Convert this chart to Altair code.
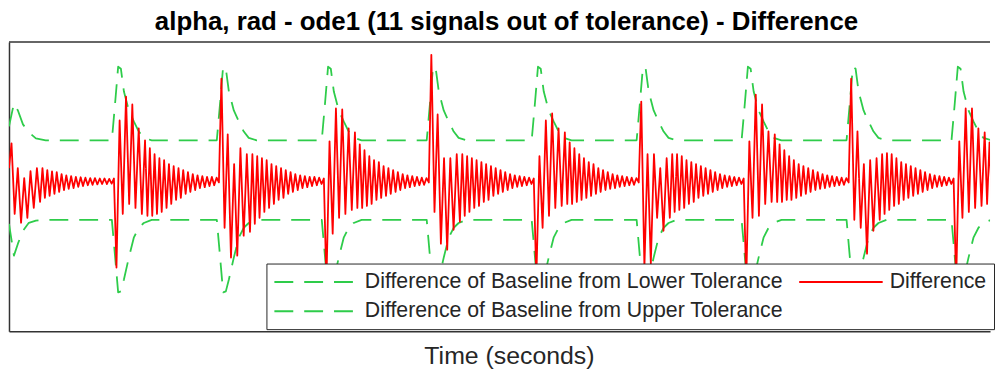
import altair as alt
import pandas as pd

TITLE = "alpha, rad - ode1 (11 signals out of tolerance) - Difference"
X_TITLE = "Time (seconds)"
LOWER = "Difference of Baseline from Lower Tolerance"
DIFF = "Difference"
UPPER = "Difference of Baseline from Upper Tolerance"
SERIES = [LOWER, UPPER, DIFF]
COLORS = ["#2ecc4a", "#2ecc4a", "#ff0000"]

# burst onsets (s)
BURST_ONSETS = [0, 1, 2, 3, 4, 5, 6, 7, 8, 9]
# times of the oscillation extrema after each onset (s)
EXT_T = [0.024, 0.054, 0.084, 0.115, 0.145, 0.175, 0.205, 0.236, 0.266, 0.296,
         0.319, 0.342, 0.365, 0.387, 0.410, 0.433, 0.455, 0.478, 0.501, 0.524,
         0.546, 0.569, 0.592, 0.615, 0.637, 0.660, 0.683, 0.705, 0.728, 0.751,
         0.774, 0.796, 0.819, 0.842, 0.865, 0.887, 0.910, 0.933, 0.955, 0.978]
# difference level at each onset instant (mrad)
ONSET_LEVEL = [3.0, 0.4, -0.6, 0.4, -0.6, 0.4, -0.6, 0.4, -0.6, 0.4]

# difference extrema for each burst (mrad)
BURST_1 = [9.25, -8.5, 3.0, -10.75, 0.5, -9.5, 2.25, -7.0, 3.0, -5.5,
           3.0, -4.5, 2.5, -4.0, 2.2, -3.5, 2.0, -3.0, 1.5, -2.5,
           1.2, -2.2, 1.0, -2.0, 0.8, -1.7, 0.7, -1.5, 0.6, -1.3,
           0.5, -1.2, 0.5, -1.1, 0.4, -1.0, 0.4, -1.0, 0.3, -0.9]
BURST_2 = [-22.0, 15.0, -8.5, 21.0, -6.0, 19.0, -7.0, 13.0, -8.5, 10.0,
           -9.0, 8.0, -9.0, 6.5, -8.5, 5.5, -8.0, 5.0, -7.0, 4.0,
           -6.0, 3.5, -5.0, 3.0, -4.5, 2.5, -3.5, 2.0, -3.0, 1.5,
           -2.5, 1.2, -2.0, 1.0, -1.8, 0.8, -1.5, 0.8, -1.3, 0.6]
BURST_3 = [25.5, -12.0, 11.5, -19.5, 4.0, -19.0, 8.0, -14.0, 6.5, -13.0,
           6.5, -11.0, 6.0, -9.5, 5.5, -8.0, 5.0, -7.0, 4.0, -6.0,
           3.5, -5.0, 3.0, -4.5, 2.5, -3.5, 2.0, -3.0, 1.5, -2.5,
           1.2, -2.0, 1.0, -1.8, 0.8, -1.5, 0.8, -1.3, 0.6, -1.0]
BURST_4 = [-26.0, 9.75, -13.5, 18.0, -9.5, 17.75, -8.5, 13.0, -7.5, 12.0,
           -7.0, 9.0, -7.0, 7.5, -6.5, 6.0, -6.0, 5.0, -5.0, 4.5,
           -4.5, 3.5, -4.0, 3.0, -3.5, 2.5, -3.0, 2.0, -2.5, 1.5,
           -2.0, 1.2, -1.8, 1.0, -1.5, 0.8, -1.3, 0.6, -1.2, 0.5]
BURST_5 = [31.5, -8.0, 16.5, -16.0, 5.5, -17.5, 5.5, -12.5, 6.5, -10.5,
           6.5, -9.0, 6.0, -8.0, 5.5, -7.0, 5.0, -6.5, 4.5, -5.5,
           4.0, -5.0, 3.5, -4.0, 3.0, -3.5, 2.5, -3.0, 2.0, -2.5,
           1.5, -2.0, 1.2, -1.7, 1.0, -1.5, 0.8, -1.3, 0.6, -1.0]
BURST_6 = [-25.0, 6.0, -12.0, 15.0, -9.0, 16.75, -7.0, 13.0, -6.5, 12.0,
           -6.0, 9.5, -6.0, 8.0, -5.5, 6.5, -5.0, 5.5, -4.5, 4.5,
           -4.0, 4.0, -3.5, 3.0, -3.0, 2.5, -2.5, 2.0, -2.2, 1.5,
           -2.0, 1.2, -1.7, 1.0, -1.5, 0.8, -1.3, 0.6, -1.2, 0.5]
BURST_7 = [19.75, -22.0, 6.5, -21.0, 6.5, -9.5, 3.0, -12.75, 5.5, -9.5,
           6.5, -8.0, 6.5, -7.5, 6.0, -7.0, 5.0, -6.0, 4.5, -5.5,
           4.0, -4.5, 3.5, -4.0, 3.0, -3.5, 2.5, -3.0, 2.0, -2.5,
           1.5, -2.0, 1.2, -1.7, 1.0, -1.5, 0.8, -1.3, 0.6, -1.0]
BURST_8 = [-26.0, 9.75, -9.5, 21.5, -9.0, 19.0, -6.0, 12.25, -5.5, 11.5,
           -5.5, 9.0, -5.5, 7.5, -5.0, 6.0, -5.0, 5.0, -4.5, 4.0,
           -4.0, 3.5, -3.5, 3.0, -3.0, 2.5, -2.5, 2.0, -2.2, 1.5,
           -2.0, 1.2, -1.7, 1.0, -1.5, 0.8, -1.3, 0.6, -1.2, 0.5]
BURST_9 = [25.5, -10.0, 12.25, -12.0, 4.0, -18.5, 5.0, -12.75, 5.5, -10.0,
           6.5, -8.5, 6.75, -7.5, 6.5, -6.5, 5.5, -6.0, 4.5, -5.0,
           4.0, -4.5, 3.5, -4.0, 3.0, -3.5, 2.5, -3.0, 2.0, -2.5,
           1.5, -2.0, 1.2, -1.7, 1.0, -1.5, 0.8, -1.3, 0.6, -1.0]
BURST_10 = [-26.0, 9.75, -9.5, 18.0, -8.0, 18.0, -7.0, 13.0, -6.5, 12.0,
            -6.0, 9.5, -6.0, 8.0, -5.5, 7.0, -5.0, 6.0, -5.0, 5.0]
DIFF_BURSTS = [BURST_1, BURST_2, BURST_3, BURST_4, BURST_5,
               BURST_6, BURST_7, BURST_8, BURST_9, BURST_10]

# tolerance-difference envelopes (mrad) around each onset
ENV_T = [-0.02, 0.01, 0.04, 0.066, 0.095, 0.142, 0.189, 0.237, 0.284, 0.36]
UPPER_ENV = [10.0, 19.0, 28.5, 28.0, 22.25, 17.5, 14.75, 12.2, 10.6, 10.0]
LOWER_ENV = [-10.0, -19.0, -28.25, -28.0, -25.0, -19.5, -14.5, -12.0, -10.8, -10.0]
FIRST_ENV_T = [0.0, 0.047, 0.085, 0.133, 0.189, 0.256, 0.35]
FIRST_UPPER_ENV = [13.5, 19.25, 17.5, 14.0, 12.0, 10.5, 10.0]
FIRST_LOWER_ENV = [-11.0, -19.0, -16.0, -12.75, -10.75, -10.2, -10.0]
END_T = 9.5

rows = []
for i, onset in enumerate(BURST_ONSETS):
    rows.append({"t": onset, "v": ONSET_LEVEL[i], "series": DIFF})
    for dt, v in zip(EXT_T, DIFF_BURSTS[i]):
        rows.append({"t": onset + dt, "v": v, "series": DIFF})
    if i == 0:
        for dt, u, l in zip(FIRST_ENV_T, FIRST_UPPER_ENV, FIRST_LOWER_ENV):
            rows.append({"t": onset + dt, "v": u, "series": UPPER})
            rows.append({"t": onset + dt, "v": l, "series": LOWER})
    else:
        for dt, u, l in zip(ENV_T, UPPER_ENV, LOWER_ENV):
            rows.append({"t": onset + dt, "v": u, "series": UPPER})
            rows.append({"t": onset + dt, "v": l, "series": LOWER})
rows.append({"t": END_T, "v": UPPER_ENV[-1], "series": UPPER})
rows.append({"t": END_T, "v": LOWER_ENV[-1], "series": LOWER})
df = pd.DataFrame(rows)

W, H = 987, 291
FONT = "Liberation Sans"

x = alt.X("t:Q", scale=alt.Scale(domain=[0, 9.347], nice=False, zero=False),
          axis=alt.Axis(title=X_TITLE, labels=False, ticks=False, grid=False,
                        domain=True, domainColor="#333333", domainWidth=1.5,
                        titleFont=FONT, titleFontSize=25, titleFontWeight="normal",
                        titleColor="#262626", titlePadding=13, titleX=503))
y = alt.Y("v:Q", scale=alt.Scale(domain=[-38, 34.75], nice=False, zero=False),
          axis=alt.Axis(title=None, labels=False, ticks=False, grid=False,
                        domain=True, domainColor="#333333", domainWidth=1.5))
legend = alt.Legend(title=None, orient="none", legendX=259, legendY=223, columns=2,
                    symbolType="M-1,0H7", symbolSize=441, symbolStrokeWidth=1.8,
                    labelFont=FONT, labelFontSize=21.4, labelColor="#262626",
                    labelOffset=69, labelLimit=0, columnPadding=12, rowPadding=7.5,
                    padding=7, strokeColor="#262626", fillColor="white", cornerRadius=0)
color = alt.Color("series:N", scale=alt.Scale(domain=SERIES, range=COLORS), legend=legend)
dash = alt.StrokeDash("series:N", scale=alt.Scale(domain=SERIES, range=[[19, 11], [19, 11], [1, 0]]),
                      legend=legend)

base = alt.Chart(df).encode(x=x, y=y, color=color, strokeDash=dash)
lower = base.transform_filter(alt.datum.series == LOWER).mark_line(strokeWidth=1.8, clip=True, strokeJoin="round")
upper = base.transform_filter(alt.datum.series == UPPER).mark_line(strokeWidth=1.8, clip=True, strokeJoin="round")
red = base.transform_filter(alt.datum.series == DIFF).mark_line(strokeWidth=1.8, clip=True, strokeJoin="round")
top = alt.Chart(pd.DataFrame({"a": [0]})).mark_rule(color="#333333", strokeWidth=1.5).encode(
    x=alt.value(0), x2=alt.value(W), y=alt.value(0))

chart = alt.layer(lower, upper, red, top).properties(
    width=W, height=H, padding=0,
    title=alt.TitleParams(text=TITLE, font=FONT, fontSize=26, fontWeight="bold",
                          color="#000000", anchor="middle", offset=6, dx=7),
).configure_view(stroke=None)

chart.save("out.html", embed_options={"renderer": "svg", "actions": False})
